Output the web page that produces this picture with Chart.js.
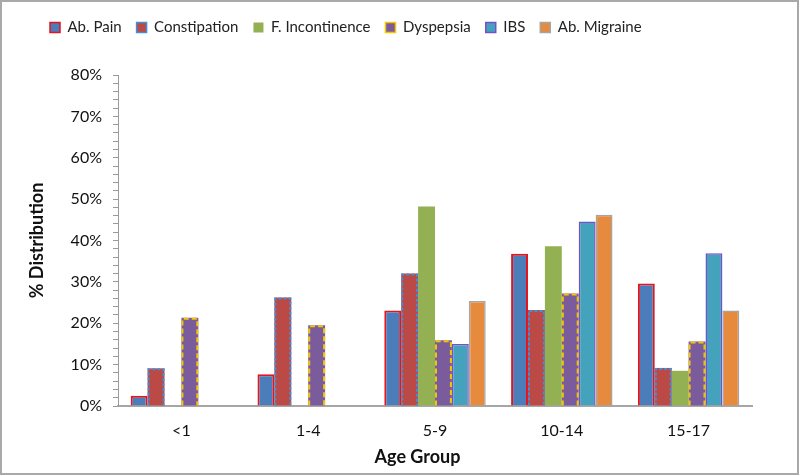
<!DOCTYPE html>
<html>
<head>
<meta charset="utf-8">
<script src="https://cdn.jsdelivr.net/npm/chart.js@4.4.1/dist/chart.umd.min.js"></script>
<style>
  html, body { margin: 0; padding: 0; background: #fff; }
  #wrap { position: relative; width: 800px; height: 476px; }
  #frame { position: absolute; left: 0; top: 0; width: 795px; height: 471px; border: 2px solid #a9a9a9; pointer-events: none; }
</style>
</head>
<body>
<div id="wrap">
  <canvas id="c" width="800" height="476"></canvas>
  <div id="frame"></div>
</div>
<script>
// ---- data ----
const categories = ['<1', '1-4', '5-9', '10-14', '15-17'];
const abPain        = [2.5, 7.7, 23.1, 36.8, 29.6];
const constipation  = [9.1, 26.2, 32.0, 23.2, 9.2];
const fIncontinence = [0, 0, 48.2, 38.6, 8.5];
const dyspepsia     = [21.3, 19.5, 15.9, 27.2, 15.6];
const ibs           = [0, 0, 15.0, 44.6, 36.9];
const abMigraine    = [0, 0, 25.4, 46.2, 23.1];
const seriesNames = ['Ab. Pain', 'Constipation', 'F. Incontinence', 'Dyspepsia', 'IBS', 'Ab. Migraine'];
const xTitle = 'Age Group';
const yTitle = '% Distribution';

const FONT = 'Lato, "Open Sans", sans-serif';

const dashPlugin = {
  id: 'dashBorders',
  afterDatasetsDraw(chart) {
    const ctx = chart.ctx;
    chart.data.datasets.forEach((ds, di) => {
      if (!ds.dashColor) return;
      const meta = chart.getDatasetMeta(di);
      if (meta.hidden) return;
      meta.data.forEach((bar, i) => {
        if (!ds.data[i]) return;
        const p = bar.getProps(['x', 'y', 'base', 'width'], true);
        const lw = ds.dashWidth;
        const l = p.x - p.width / 2 + lw / 2, r = p.x + p.width / 2 - lw / 2;
        const t = p.y + lw / 2, b = p.base;
        ctx.save();
        ctx.strokeStyle = ds.dashColor;
        ctx.lineWidth = lw;
        ctx.setLineDash(ds.dashPattern);
        ctx.beginPath();
        ctx.moveTo(l, b); ctx.lineTo(l, t); ctx.lineTo(r, t); ctx.lineTo(r, b);
        ctx.stroke();
        ctx.restore();
      });
    });
  }
};

const datasets = [
  { label: seriesNames[0], data: abPain, backgroundColor: '#4a7dba', borderColor: '#e3141b', borderWidth: 2 },
  { label: seriesNames[1], data: constipation, backgroundColor: '#bb4a47', borderWidth: 0, dashColor: '#3f8fd9', dashWidth: 2, dashPattern: [3, 2] },
  { label: seriesNames[2], data: fIncontinence, backgroundColor: '#93b152', borderWidth: 0 },
  { label: seriesNames[3], data: dyspepsia, backgroundColor: '#7a5c9d', borderWidth: 0, dashColor: '#f4c600', dashWidth: 2, dashPattern: [5, 3] },
  { label: seriesNames[4], data: ibs, backgroundColor: '#45a2bd', borderColor: '#7650c8', borderWidth: 1.5 },
  { label: seriesNames[5], data: abMigraine, backgroundColor: '#e68a3e', borderColor: '#a5a5a5', borderWidth: 1.5 }
];

new Chart(document.getElementById('c'), {
  type: 'bar',
  data: { labels: categories, datasets },
  plugins: [dashPlugin],
  options: {
    responsive: false,
    animation: false,
    layout: { padding: { top: 5, left: 35, right: 48, bottom: 0 } },
    datasets: { bar: { categoryPercentage: 0.8, barPercentage: 1.0, borderSkipped: 'bottom' } },
    plugins: {
      tooltip: { enabled: false },
      legend: {
        position: 'top',
        align: 'start',
        weight: 3000,
        labels: {
          boxWidth: 10,
          boxHeight: 10,
          padding: 15,
          color: '#222',
          font: { family: FONT, size: 15 },
          generateLabels(chart) {
            const items = Chart.defaults.plugins.legend.labels.generateLabels(chart);
            items.forEach((it, i) => {
              const ds = chart.data.datasets[i];
              if (ds.dashColor) { it.strokeStyle = ds.dashColor; it.lineWidth = 1.5; }
              else if (ds.borderWidth) { it.lineWidth = 1.5; }
            });
            return items;
          }
        }
      },
      title: {
        display: true,
        text: ' ',
        weight: 500,
        font: { size: 10, lineHeight: 1 },
        padding: { top: 0, bottom: 20 }
      }
    },
    scales: {
      x: {
        grid: { display: false, drawTicks: false },
        border: { display: true, color: '#a6a6a6', width: 2 },
        ticks: { color: '#111', font: { family: FONT, size: 16 }, padding: 15 },
        title: { display: true, text: xTitle + '        ', color: '#111', font: { family: FONT, size: 18, weight: 'bold', lineHeight: 1.2 }, padding: { top: 0, bottom: 8 } },
        afterFit(scale) { scale.height = 70; }
      },
      y: {
        min: 0,
        max: 80,
        grid: { display: true, drawOnChartArea: false, drawTicks: true, tickLength: 5, color: '#9a9a9a' },
        border: { display: true, color: '#9a9a9a', width: 1 },
        ticks: {
          stepSize: 2,
          autoSkip: false,
          padding: 11,
          color: '#111',
          font: { family: FONT, size: 16 },
          callback: (v) => (Math.round(v) % 10 === 0 ? Math.round(v) + '%' : '')
        },
        title: { display: true, text: yTitle, color: '#111', font: { family: FONT, size: 18, weight: 'bold', lineHeight: 1 }, padding: { top: -7, bottom: 0 } },
        afterFit(scale) { scale.width = 83; }
      }
    }
  }
});
</script>
</body>
</html>
